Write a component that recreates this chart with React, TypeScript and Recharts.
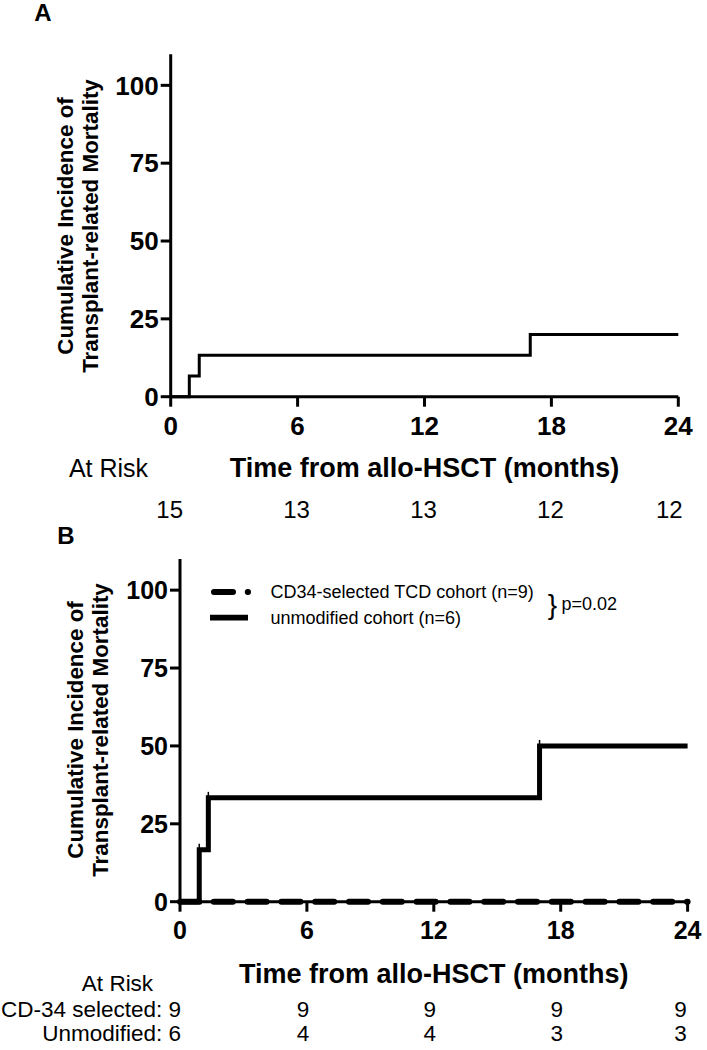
import React from 'react';
import { LineChart, Line, XAxis, YAxis } from 'recharts';

const months = [0, 6, 12, 18, 24];
const incidenceTicks = [0, 25, 50, 75, 100];

// panel A: whole group
const timesA = [0, 0.88, 1.35, 17, 24];
const incidenceA = [0, 6.67, 13.33, 20, 20];
const atRiskA = [15, 13, 13, 12, 12];

// panel B: by cohort
const timesUnmod = [0, 0.91, 1.34, 17, 24];
const incidenceUnmod = [0, 16.67, 33.33, 50, 50];
const censorTimesUnmod = [0.91, 1.34, 17];
const censorIncUnmod = [16.67, 33.33, 50];
const timesCD34 = [0, 24];
const incidenceCD34 = [0, 0];
const atRiskCD34 = [9, 9, 9, 9, 9];
const atRiskUnmod = [6, 4, 4, 3, 3];

const FONT = "'Liberation Sans', Arial, Helvetica, sans-serif";

const toPoints = (ts: number[], vs: number[]) => ts.map((t, i) => ({ t, v: vs[i] }));

const dataA = toPoints(timesA, incidenceA);
const dataUnmod = toPoints(timesUnmod, incidenceUnmod);
const dataCensor = toPoints(censorTimesUnmod, censorIncUnmod);
const dataCD34 = toPoints(timesCD34, incidenceCD34);

const CensorMark = (props: any) => {
    const { cx, cy, index } = props;
    if (cx == null || cy == null) return <g key={`c-${index}`} />;
    return <line key={`c-${index}`} x1={cx} x2={cx} y1={cy - 6} y2={cy} stroke="#000" strokeWidth={1.5} />;
};

const Txt: React.FC<{ x: number; y: number; size: number; bold?: boolean; align?: 'center' | 'right' | 'left'; children: React.ReactNode }> = ({ x, y, size, bold, align = 'center', children }) => {
    const tx = align === 'center' ? '-50%' : align === 'right' ? '-100%' : '0';
    return (
        <div style={{
            position: 'absolute', left: x, top: y, transform: `translate(${tx}, -50%)`,
            fontFamily: FONT, fontSize: size, fontWeight: bold ? 700 : 400, lineHeight: 1,
            whiteSpace: 'nowrap', color: '#000'
        }}>{children}</div>
    );
};

const YTitle: React.FC<{ x: number; y: number }> = ({ x, y }) => (
    <div style={{
        position: 'absolute', left: x - 200, top: y - 25, width: 400, height: 50,
        transform: 'rotate(-90deg)', textAlign: 'center', fontFamily: FONT,
        fontSize: 22.4, fontWeight: 700, lineHeight: '25px', color: '#000'
    }}>
        Cumulative Incidence of<br />Transplant-related Mortality
    </div>
);

const axisStyle = { stroke: '#000', strokeWidth: 3 };

const Panel: React.FC<{ top: number; plotLeft: number; plotTop: number; plotBottom: number; plotRight: number; tickSize: number; children: React.ReactNode }> = ({ top, plotLeft, plotTop, plotBottom, plotRight, tickSize, children }) => {
    const H = 460;
    return (
        <div style={{ position: 'absolute', left: 0, top }}>
            <LineChart width={707} height={H} margin={{ top: plotTop, right: 707 - plotRight, bottom: 20, left: 0 }}>
                <XAxis
                    dataKey="t" type="number" domain={[0, 24]} ticks={months} interval={0}
                    height={H - 20 - plotBottom} tickSize={10} tickMargin={10}
                    axisLine={axisStyle} tickLine={axisStyle}
                    tick={{ fill: '#000', fontSize: tickSize, fontWeight: 700, fontFamily: FONT }}
                />
                <YAxis
                    type="number" domain={[0, 110]} ticks={incidenceTicks} interval={0}
                    width={plotLeft} tickSize={10} tickMargin={2}
                    axisLine={axisStyle} tickLine={axisStyle}
                    tick={{ fill: '#000', fontSize: tickSize, fontWeight: 700, fontFamily: FONT }}
                />
                {children}
            </LineChart>
        </div>
    );
};

const App: React.FC = () => {
    const aLeft = 170.7, aRight = 678.3;
    const bLeft = 180, bRight = 687.6;
    const xA = (t: number) => aLeft + (t / 24) * (aRight - aLeft);
    const xB = (t: number) => bLeft + (t / 24) * (bRight - bLeft);

    return (
        <div style={{ position: 'absolute', left: 0, top: 0, width: 707, height: 1050, background: '#fff', overflow: 'hidden' }}>
            <Panel top={0} plotLeft={aLeft} plotRight={aRight} plotTop={54.2} plotBottom={396.7} tickSize={26}>
                <Line data={dataA} dataKey="v" type="stepAfter" stroke="#000" strokeWidth={3}
                    dot={false} activeDot={false} isAnimationActive={false} />
            </Panel>

            <Panel top={500} plotLeft={bLeft} plotRight={bRight} plotTop={59} plotBottom={401.7} tickSize={25}>
                <Line data={dataCD34} dataKey="v" type="linear" stroke="#000" strokeWidth={6}
                    strokeDasharray="19 14.8" strokeLinecap="round"
                    dot={false} activeDot={false} isAnimationActive={false} />
                <Line data={dataUnmod} dataKey="v" type="stepAfter" stroke="#000" strokeWidth={5}
                    dot={false} activeDot={false} isAnimationActive={false} />
                <Line data={dataCensor} dataKey="v" stroke="none"
                    dot={CensorMark} activeDot={false} isAnimationActive={false} />
            </Panel>

            {/* panel A texts */}
            <Txt x={43} y={13} size={24} bold>A</Txt>
            <YTitle x={78.4} y={225.5} />
            <Txt x={424.5} y={468} size={27} bold>Time from allo-HSCT (months)</Txt>
            <Txt x={108.5} y={468} size={25}>At Risk</Txt>
            {atRiskA.map((n, i) => (
                <Txt key={`a-${i}`} x={xA(months[i]) + (i === months.length - 1 ? -9 : -1)} y={510} size={24}>{n}</Txt>
            ))}

            {/* panel B texts */}
            <Txt x={66} y={536} size={24} bold>B</Txt>
            <YTitle x={88} y={730.3} />
            <Txt x={433.8} y={974} size={27} bold>Time from allo-HSCT (months)</Txt>
            <Txt x={117.5} y={983.5} size={22.5}>At Risk</Txt>
            <Txt x={181} y={1009.5} size={22.5} align="right">CD-34 selected: 9</Txt>
            <Txt x={181} y={1033.5} size={22.5} align="right">Unmodified: 6</Txt>
            {atRiskCD34.map((n, i) => i === 0 ? null : (
                <Txt key={`c-${i}`} x={xB(months[i]) + (i === months.length - 1 ? -7 : -4)} y={1009.5} size={22.5}>{n}</Txt>
            ))}
            {atRiskUnmod.map((n, i) => i === 0 ? null : (
                <Txt key={`u-${i}`} x={xB(months[i]) + (i === months.length - 1 ? -7 : -4)} y={1033.5} size={22.5}>{n}</Txt>
            ))}

            {/* legend */}
            <svg style={{ position: 'absolute', left: 0, top: 0 }} width={707} height={1050} pointerEvents="none">
                <line x1={214} x2={248} y1={592} y2={592} stroke="#000" strokeWidth={6}
                    strokeDasharray="19 14.8" strokeLinecap="round" />
                <line x1={210} x2={248} y1={617.6} y2={617.6} stroke="#000" strokeWidth={5.6} />
            </svg>
            <Txt x={270.5} y={592} size={18} align="left">CD34-selected TCD cohort (n=9)</Txt>
            <Txt x={270.5} y={617.6} size={18} align="left">unmodified cohort (n=6)</Txt>
            <Txt x={552.5} y={605} size={28} align="center">{'}'}</Txt>
            <Txt x={561.5} y={603.5} size={18} align="left">p=0.02</Txt>
        </div>
    );
};

export default App;
